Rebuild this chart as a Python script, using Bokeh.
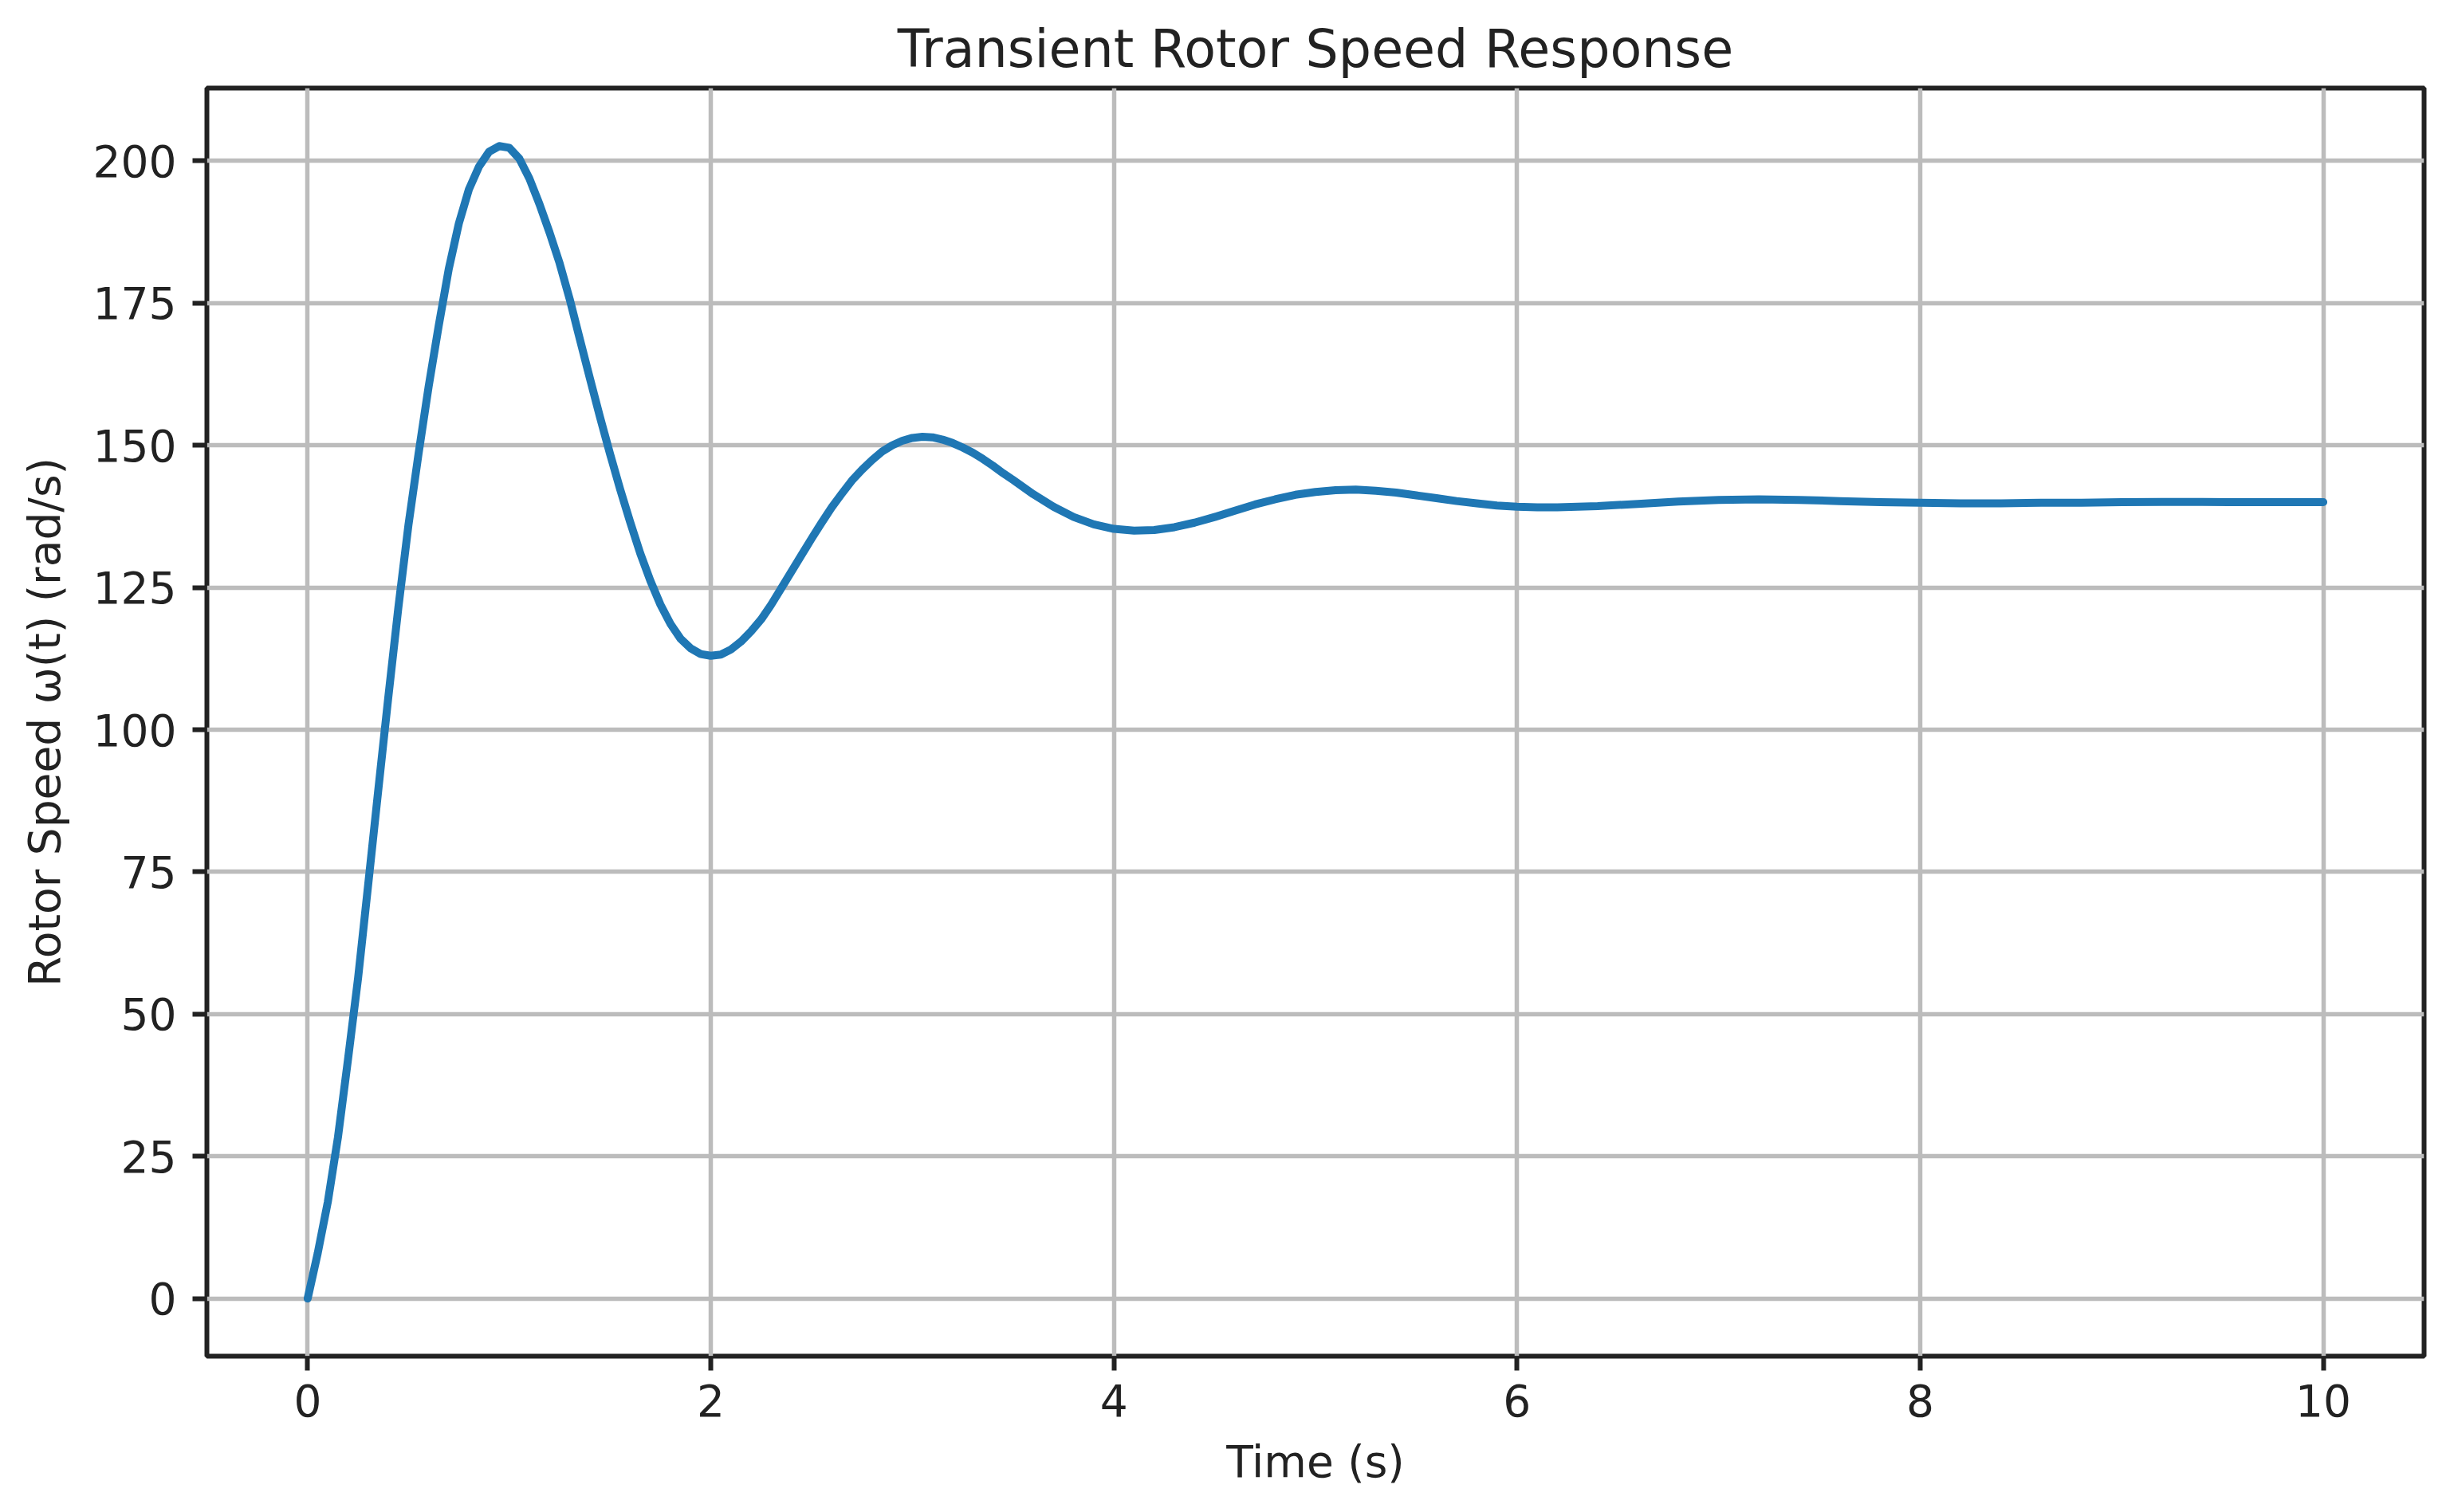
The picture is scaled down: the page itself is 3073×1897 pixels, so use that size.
from bokeh.plotting import figure
from bokeh.models import FixedTicker, Range1d
from bokeh.embed import file_html
from bokeh.resources import INLINE

# Data
time_s = [0.00, 0.05, 0.10, 0.15, 0.20, 0.25, 0.30, 0.35, 0.40, 0.45,
          0.50, 0.55, 0.60, 0.65, 0.70, 0.75, 0.80, 0.85, 0.90, 0.95,
          1.00, 1.05, 1.10, 1.15, 1.20, 1.25, 1.30, 1.35, 1.40, 1.45,
          1.50, 1.55, 1.60, 1.65, 1.70, 1.75, 1.80, 1.85, 1.90, 1.95,
          2.00, 2.05, 2.10, 2.15, 2.20, 2.25, 2.30, 2.35, 2.40, 2.45,
          2.50, 2.55, 2.60, 2.65, 2.70, 2.75, 2.80, 2.85, 2.90, 2.95,
          3.00, 3.05, 3.10, 3.15, 3.20, 3.25, 3.30, 3.35, 3.40, 3.45,
          3.50, 3.60, 3.70, 3.80, 3.90, 4.00, 4.10, 4.20, 4.30, 4.40,
          4.50, 4.60, 4.70, 4.80, 4.90, 5.00, 5.10, 5.20, 5.30, 5.40,
          5.50, 5.60, 5.70, 5.80, 5.90, 6.00, 6.10, 6.20, 6.40, 6.60,
          6.80, 7.00, 7.20, 7.40, 7.60, 7.80, 8.00, 8.20, 8.40, 8.60,
          8.80, 9.00, 9.20, 9.40, 9.60, 9.80, 10.00]
speed_rad_s = [0.0, 8.0, 17.0, 28.3, 42.0, 56.3, 72.7, 89.3, 105.7, 121.5,
               136.0, 148.5, 160.3, 171.0, 181.0, 189.0, 195.0, 199.0, 201.6, 202.6,
               202.3, 200.4, 196.9, 192.4, 187.4, 182.0, 175.7, 168.7, 161.8, 155.0,
               148.5, 142.3, 136.5, 131.0, 126.2, 122.0, 118.6, 116.0, 114.3, 113.3,
               113.0, 113.2, 114.1, 115.5, 117.3, 119.4, 122.0, 124.9, 127.8, 130.7,
               133.6, 136.4, 139.1, 141.5, 143.8, 145.7, 147.4, 148.9, 150.0, 150.8,
               151.3, 151.5, 151.4, 151.0, 150.4, 149.6, 148.7, 147.6, 146.4, 145.1,
               143.9, 141.4, 139.2, 137.4, 136.1, 135.3, 135.0, 135.1, 135.6, 136.4,
               137.4, 138.5, 139.6, 140.5, 141.3, 141.8, 142.1, 142.2, 142.0, 141.7,
               141.2, 140.7, 140.2, 139.8, 139.4, 139.2, 139.1, 139.1, 139.3, 139.7,
               140.1, 140.4, 140.5, 140.4, 140.2, 140.0, 139.9, 139.8, 139.8, 139.9,
               139.9, 140.0, 140.05, 140.05, 140.0, 140.0, 140.0]
x_ticks = [0, 2, 4, 6, 8, 10]
y_ticks = [0, 25, 50, 75, 100, 125, 150, 175, 200]

FONT = "DejaVu Sans"
INK = "#222222"

p = figure(width=3057, height=1881, output_backend="svg", toolbar_location=None,
           x_range=Range1d(-0.5, 10.5), y_range=Range1d(-10.13, 212.8),
           min_border_left=259, min_border_right=17, min_border_top=110,
           min_border_bottom=180,
           title="Transient Rotor Speed Response")

p.line(time_s, speed_rad_s, line_color="#1f77b4", line_width=10,
       line_join="round", line_cap="round")

p.title.align = "center"
p.title.text_font = FONT
p.title.text_font_size = "65px"
p.title.text_font_style = "normal"
p.title.text_color = INK
p.title.standoff = 24

p.outline_line_color = INK
p.outline_line_width = 6
p.outline_line_alpha = 1.0
p.background_fill_color = "white"
p.border_fill_color = "white"

p.xaxis.ticker = FixedTicker(ticks=x_ticks)
p.yaxis.ticker = FixedTicker(ticks=y_ticks)
p.xaxis.axis_label = "Time (s)"
p.yaxis.axis_label = "Rotor Speed ω(t) (rad/s)"

for ax in (p.xaxis, p.yaxis):
    ax.axis_line_color = None
    ax.major_tick_line_color = INK
    ax.major_tick_line_width = 6
    ax.major_tick_out = 18
    ax.major_tick_in = 0
    ax.minor_tick_line_color = None
    ax.major_label_text_font = FONT
    ax.major_label_text_font_size = "55px"
    ax.major_label_text_color = INK
    ax.axis_label_text_font = FONT
    ax.axis_label_text_font_size = "55px"
    ax.axis_label_text_font_style = "normal"
    ax.axis_label_text_color = INK

p.xaxis.major_label_standoff = 17
p.yaxis.major_label_standoff = 20
p.xaxis.axis_label_standoff = 22
p.yaxis.axis_label_standoff = 26

p.xgrid.ticker = FixedTicker(ticks=x_ticks)
p.ygrid.ticker = FixedTicker(ticks=y_ticks)
for g in (p.xgrid, p.ygrid):
    g.grid_line_color = "#bcbcbc"
    g.grid_line_width = 5.5
    g.grid_line_alpha = 1.0

open("out.html", "w").write(file_html(p, INLINE))
